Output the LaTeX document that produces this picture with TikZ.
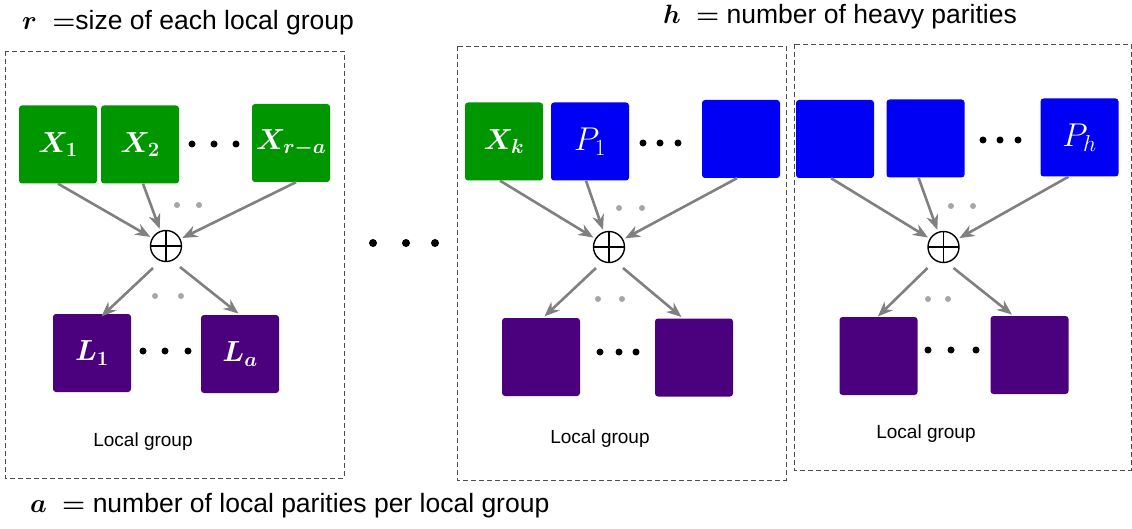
\RequirePackage{fix-cm}
\documentclass[tikz,border=0pt]{standalone}
\usepackage{amsmath}
\usepackage{fontspec}
\setmainfont{Liberation Sans}
\usetikzlibrary{arrows.meta,calc}

\definecolor{datagreen}{RGB}{0,150,0}
\definecolor{parityblue}{RGB}{0,0,245}
\definecolor{localpurple}{RGB}{75,0,125}

\tikzset{
  block/.style={rounded corners=3pt, minimum size=78pt, inner sep=0pt,
    text=white, font=\fontsize{29}{31}\selectfont},
  bigtext/.style={font=\fontsize{33}{35}\selectfont},
  xorgate/.style={circle, draw, line width=1.4pt, minimum size=31pt, inner sep=0pt,
    path picture={\draw[line width=1.4pt]
      (path picture bounding box.north) -- (path picture bounding box.south)
      (path picture bounding box.west) -- (path picture bounding box.east);}},
  feed/.style={draw=gray, line width=2.6pt, -{Stealth[length=15pt,width=12pt]}, shorten >=2pt},
  groupbox/.style={draw=black!70, dash pattern=on 5pt off 3pt, line width=0.9pt},
  caption/.style={anchor=base, font=\fontsize{19}{22}\selectfont},
  legend/.style={anchor=base west, inner sep=0pt, font=\fontsize{26.5}{30}\selectfont},
}

\begin{document}
\begin{tikzpicture}[x=1pt,y=-1pt]
        \useasboundingbox (0,0) rectangle (1132,529);

        % first local group
        \draw[groupbox] (5,51) rectangle (344,478);
        \node[block, fill=datagreen] (X1) at (58,144.5) {$\boldsymbol{X_1}$};
        \node[block, fill=datagreen] (X2) at (140,144.5) {$\boldsymbol{X_2}$};
        \node[block, fill=datagreen] (Xra) at (291,143) {$\boldsymbol{X_{r-a}}$};
        \node[xorgate] (s1) at (166,246) {};
        \node[block, fill=localpurple] (L1) at (92,353) {$\boldsymbol{L_1}$};
        \node[block, fill=localpurple] (La) at (240,354) {$\boldsymbol{L_a}$};

        \draw[feed] (X1.south) -- (s1);
        \draw[feed] ([xshift=3pt]X2.south) -- (s1);
        \draw[feed] ([xshift=5pt]Xra.south) -- (s1);
        \draw[feed] ($(s1)+(-13,22)$) -- ($(L1.north)+(8,4)$);
        \draw[feed] ($(s1)+(14,21)$) -- (La.north);

        \foreach \x in {192,214,236} \fill (\x,144) circle (3.5pt);
        \foreach \x in {143,165,188} \fill (\x,351) circle (3.5pt);
        \fill[gray!70] (177,205) circle (3pt) (199,205) circle (3pt);
        \fill[gray!70] (155,296) circle (3pt) (181,296) circle (3pt);
        \node[caption] (c1) at (143,446) {Local group};

        % groups in between
        \foreach \x in {373,406,435} \fill (\x,243) circle (4pt);

        % last local group
        \draw[groupbox] (457,46) rectangle (786,480);
        \node[block, fill=datagreen] (Xk) at (504,141.5) {$\boldsymbol{X_k}$};
        \node[block, bigtext, fill=parityblue] (P1) at (590,141.5) {$P_1$};
        \node[block, fill=parityblue] (P2) at (741,139) {};
        \node[xorgate] (s2) at (609,247) {};
        \node[block, fill=localpurple] (M1) at (541,357) {};
        \node[block, fill=localpurple] (M2) at (694,357.5) {};

        \draw[feed] ([xshift=-4pt]Xk.south) -- (s2);
        \draw[feed] ([xshift=-4pt]P1.south) -- (s2);
        \draw[feed] ([xshift=-4pt]P2.south) -- (s2);
        \draw[feed] ($(s2)+(-13,21)$) -- ($(M1.north)+(2,0)$);
        \draw[feed] ($(s2)+(14,21)$) -- ($(M2.north)+(-11,0)$);

        \foreach \x in {643,660,678} \fill (\x,143) circle (3.5pt);
        \foreach \x in {600,619,636} \fill (\x,352) circle (3.5pt);
        \fill[gray!70] (619,208) circle (3pt) (642,208) circle (3pt);
        \fill[gray!70] (598,299) circle (3pt) (622,299) circle (3pt);
        \node[caption] (c2) at (600,443) {Local group};

        % heavy parities
        \draw[groupbox] (794,44) rectangle (1131,470);
        \node[block, fill=parityblue] (H1) at (835,139) {};
        \node[block, fill=parityblue] (H2) at (925.5,138.5) {};
        \node[block, bigtext, fill=parityblue] (Ph) at (1079.5,137.5) {$P_h$};
        \node[xorgate] (s3) at (943.5,247) {};
        \node[block, fill=localpurple] (N1) at (878.5,356) {};
        \node[block, fill=localpurple] (N2) at (1029.5,355) {};

        \draw[feed] ([xshift=-4pt]H1.south) -- (s3);
        \draw[feed] ([xshift=-7pt]H2.south) -- (s3);
        \draw[feed] ([xshift=-11pt]Ph.south) -- (s3);
        \draw[feed] ($(s3)+(-16,21)$) -- ($(N1.north)+(-2,1)$);
        \draw[feed] ($(s3)+(10,21)$) -- ($(N2.north)+(-16,0)$);

        \foreach \x in {983,1000,1018} \fill (\x,140) circle (3.5pt);
        \foreach \x in {928,951,976} \fill (\x,350) circle (3.5pt);
        \fill[gray!70] (951,206) circle (3pt) (973,206) circle (3pt);
        \fill[gray!70] (928,299) circle (3pt) (948,299) circle (3pt);
        \node[caption] (c3) at (926,438) {Local group};

        % legends
        \node[legend] (rlab) at (22,30) {$\boldsymbol{r\:=}$size of each local group};
        \node[legend] (hlab) at (663,24) {$\boldsymbol{h\:=}$ number of heavy parities};
        \node[legend] (alab) at (30,512) {$\boldsymbol{a\:=}$ number of local parities per local group};

    \end{tikzpicture}
\end{document}
